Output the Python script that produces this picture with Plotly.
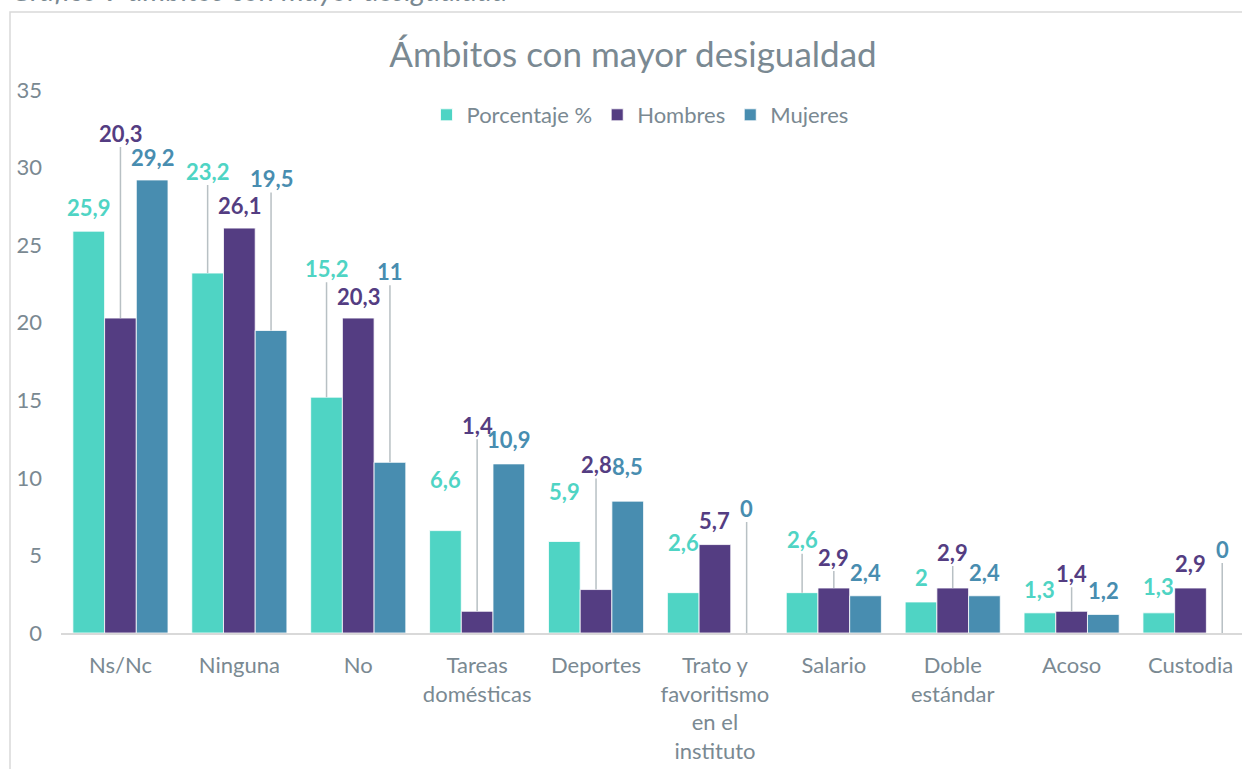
import plotly.graph_objects as go

categories = ["Ns/Nc", "Ninguna", "No", "Tareas<br>domésticas", "Deportes",
              "Trato y<br>favoritismo<br>en el<br>instituto", "Salario",
              "Doble<br>estándar", "Acoso", "Custodia"]
series_names = ["Porcentaje %", "Hombres", "Mujeres"]
porcentaje = [25.9, 23.2, 15.2, 6.6, 5.9, 2.6, 2.6, 2.0, 1.3, 1.3]
hombres = [20.3, 26.1, 20.3, 1.4, 2.8, 5.7, 2.9, 2.9, 1.4, 2.9]
mujeres = [29.2, 19.5, 11.0, 10.9, 8.5, 0.0, 2.4, 2.4, 1.2, 0.0]
y_ticks = [0, 5, 10, 15, 20, 25, 30, 35]

colors = ["#4fd4c4", "#543d82", "#488db0"]
text_gray = "#7a8992"

# label placement (pixel offset above bar top, and whether a leader line is drawn)
label_offsets = [
    [-24, -102, -129, -51, -50, -50, -53, -24, -23, -26],
    [-185, -23, -22, -186, -125, -24, -31, -36, -38, -25],
    [-22, -152, -191, -24, -35, -125, -23, -23, -24, -84],
]
leader = [
    [0, 1, 1, 0, 0, 0, 1, 0, 0, 0],
    [1, 0, 0, 1, 1, 0, 1, 1, 1, 0],
    [0, 1, 1, 0, 0, 1, 0, 0, 0, 1],
]

def fmt(v):
    s = ("%g" % v)
    return s.replace(".", ",")

fig = go.Figure()
all_vals = [porcentaje, hombres, mujeres]
for name, vals, col in zip(series_names, all_vals, colors):
    fig.add_trace(go.Bar(x=list(range(len(categories))), y=vals, name=name,
                         marker=dict(color=col, line=dict(color="white", width=0.8))))

bargap = 0.2
bw = (1 - bargap) / 3
annotations = []
for k, vals in enumerate(all_vals):
    for i, v in enumerate(vals):
        annotations.append(dict(
            x=i + (k - 1) * bw, y=v, xref="x", yref="y",
            text="<b>" + fmt(v) + "</b>",
            font=dict(family="Lato", size=22, color=colors[k]),
            showarrow=True, arrowhead=0, ax=0, ay=label_offsets[k][i],
            arrowwidth=1.5, standoff=0, borderpad=0,
            arrowcolor="#b8c0c4" if leader[k][i] else "rgba(0,0,0,0)",
        ))

annotations.append(dict(
    text="<i>Gráfico 9 ámbitos con mayor desigualdad</i>",
    xref="paper", yref="paper", x=(9 - 61) / 1181, y=(633 - 9) / 543,
    xanchor="left", yanchor="bottom", showarrow=False,
    font=dict(family="Lato", size=29, color=text_gray)))

fig.update_layout(
    width=1242, height=769,
    margin=dict(l=61, r=0, t=90, b=136),
    paper_bgcolor="white", plot_bgcolor="white",
    barmode="group", bargap=bargap, bargroupgap=0,
    title=dict(text="Ámbitos con mayor desigualdad", x=(633 - 61) / 1181, xref="paper",
               xanchor="center", y=1 - 55 / 769, yanchor="middle",
               font=dict(family="Lato", size=35, color=text_gray)),
    legend=dict(orientation="h", x=(640 - 61) / 1181, xanchor="center",
                y=(633 - 115) / 543, yanchor="middle",
                font=dict(family="Lato", size=22, color=text_gray),
                bgcolor="rgba(0,0,0,0)", traceorder="normal", itemwidth=30),
    font=dict(family="Lato", color=text_gray),
    annotations=annotations,
    shapes=[dict(type="rect", xref="paper", yref="paper",
                 x0=(10 - 61) / 1181, x1=1.05, y0=-0.4, y1=(633 - 12) / 543,
                 line=dict(color="#d9d9d9", width=1.5), layer="below")],
)
fig.update_xaxes(range=[-0.5, 9.433], tickvals=list(range(len(categories))),
                 ticktext=categories, showgrid=False, showline=True,
                 linecolor="#d9d9d9", linewidth=1.5, ticks="", zeroline=False,
                 tickfont=dict(family="Lato", size=22, color=text_gray),
                 ticklabelstandoff=12)
fig.update_yaxes(range=[0, 35], tickvals=y_ticks, showgrid=False, showline=False,
                 zeroline=False, ticks="",
                 tickfont=dict(family="Lato", size=22, color=text_gray),
                 ticklabelstandoff=18)

fig.write_html("out.html", config={"displayModeBar": False},
               post_script="document.body.style.margin='0';")
